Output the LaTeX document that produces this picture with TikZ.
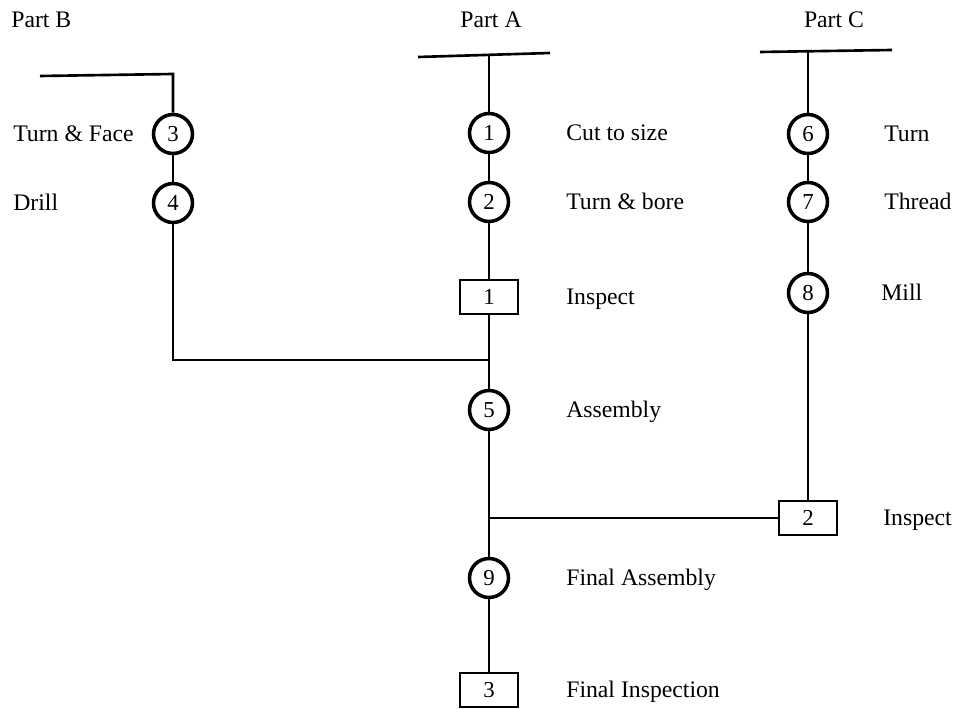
\documentclass[tikz,border=0pt]{standalone}
\usepackage{fontspec}
\setmainfont{Liberation Serif}
\begin{document}
\begin{tikzpicture}[x=0.02cm, y=-0.02cm, line width=1.5pt,
  op/.style={circle, draw, line width=2pt, minimum size=0.78cm, inner sep=0pt, font=\fontsize{13}{13}\selectfont},
  insp/.style={rectangle, draw, line width=1.2pt, minimum width=1.17cm, minimum height=0.68cm, inner sep=0pt, font=\fontsize{13}{13}\selectfont},
  lbl/.style={anchor=west, inner sep=0pt, text height=2ex, text depth=0.2ex, font=\fontsize{13.5}{14}\selectfont}]
  \useasboundingbox (0,0) rectangle (964,709);
  % part titles and bars
  \node[lbl] (partB) at (10,20) {Part B};
  \node[lbl, anchor=center] (partA) at (491,20) {Part A};
  \node[lbl, anchor=center] (partC) at (834,20) {Part C};
  \coordinate (barBl) at (40,76);  \coordinate (topB) at (173,74);
  \coordinate (barAl) at (418,57); \coordinate (barAr) at (550,53); \coordinate (topA) at (489,55);
  \coordinate (barCl) at (760,52); \coordinate (barCr) at (892,50); \coordinate (topC) at (808,51);
  \draw (barAl) -- (barAr);
  \draw (barCl) -- (barCr);
  % Part B
  \node[op] (op3) at (173,134) {3};
  \node[op] (op4) at (173,203) {4};
  \node[lbl] (t3) at (12,134) {Turn \& Face};
  \node[lbl] (t4) at (12,203) {Drill};
  % Part A
  \node[op] (op1) at (489,133) {1};
  \node[op] (op2) at (489,202) {2};
  \node[insp] (in1) at (489,297) {1};
  \node[op] (op5) at (489,410) {5};
  \node[op] (op9) at (489,578) {9};
  \node[insp] (in3) at (489,690) {3};
  \node[lbl] (t1) at (565,133) {Cut to size};
  \node[lbl] (t2) at (565,202) {Turn \& bore};
  \node[lbl] (ti1) at (565,297) {Inspect};
  \node[lbl] (t5) at (565,410) {Assembly};
  \node[lbl] (t9) at (565,578) {Final Assembly};
  \node[lbl] (ti3) at (565,690) {Final Inspection};
  % Part C
  \node[op] (op6) at (808,134) {6};
  \node[op] (op7) at (808,202) {7};
  \node[op] (op8) at (808,293) {8};
  \node[insp] (in2) at (808,518) {2};
  \node[lbl] (t6) at (883,134) {Turn};
  \node[lbl] (t7) at (883,202) {Thread};
  \node[lbl] (t8) at (880,293) {Mill};
  \node[lbl] (ti2) at (882,518) {Inspect};
  % junctions
  \coordinate (jB) at (489,360);
  \coordinate (jC) at (489,518);
  % connectors
  \draw[line join=miter] (barBl) -- (topB) -- (op3);
  \draw (op3) -- (op4);
  \draw (op4) |- (jB);
  \draw (topA) -- (op1);
  \draw (op1) -- (op2);
  \draw (op2) -- (in1);
  \draw (in1) -- (op5);
  \draw (op5) -- (op9);
  \draw (op9) -- (in3);
  \draw (topC) -- (op6);
  \draw (op6) -- (op7);
  \draw (op7) -- (op8);
  \draw (op8) -- (in2);
  \draw (in2) -- (jC);
\end{tikzpicture}
\end{document}
